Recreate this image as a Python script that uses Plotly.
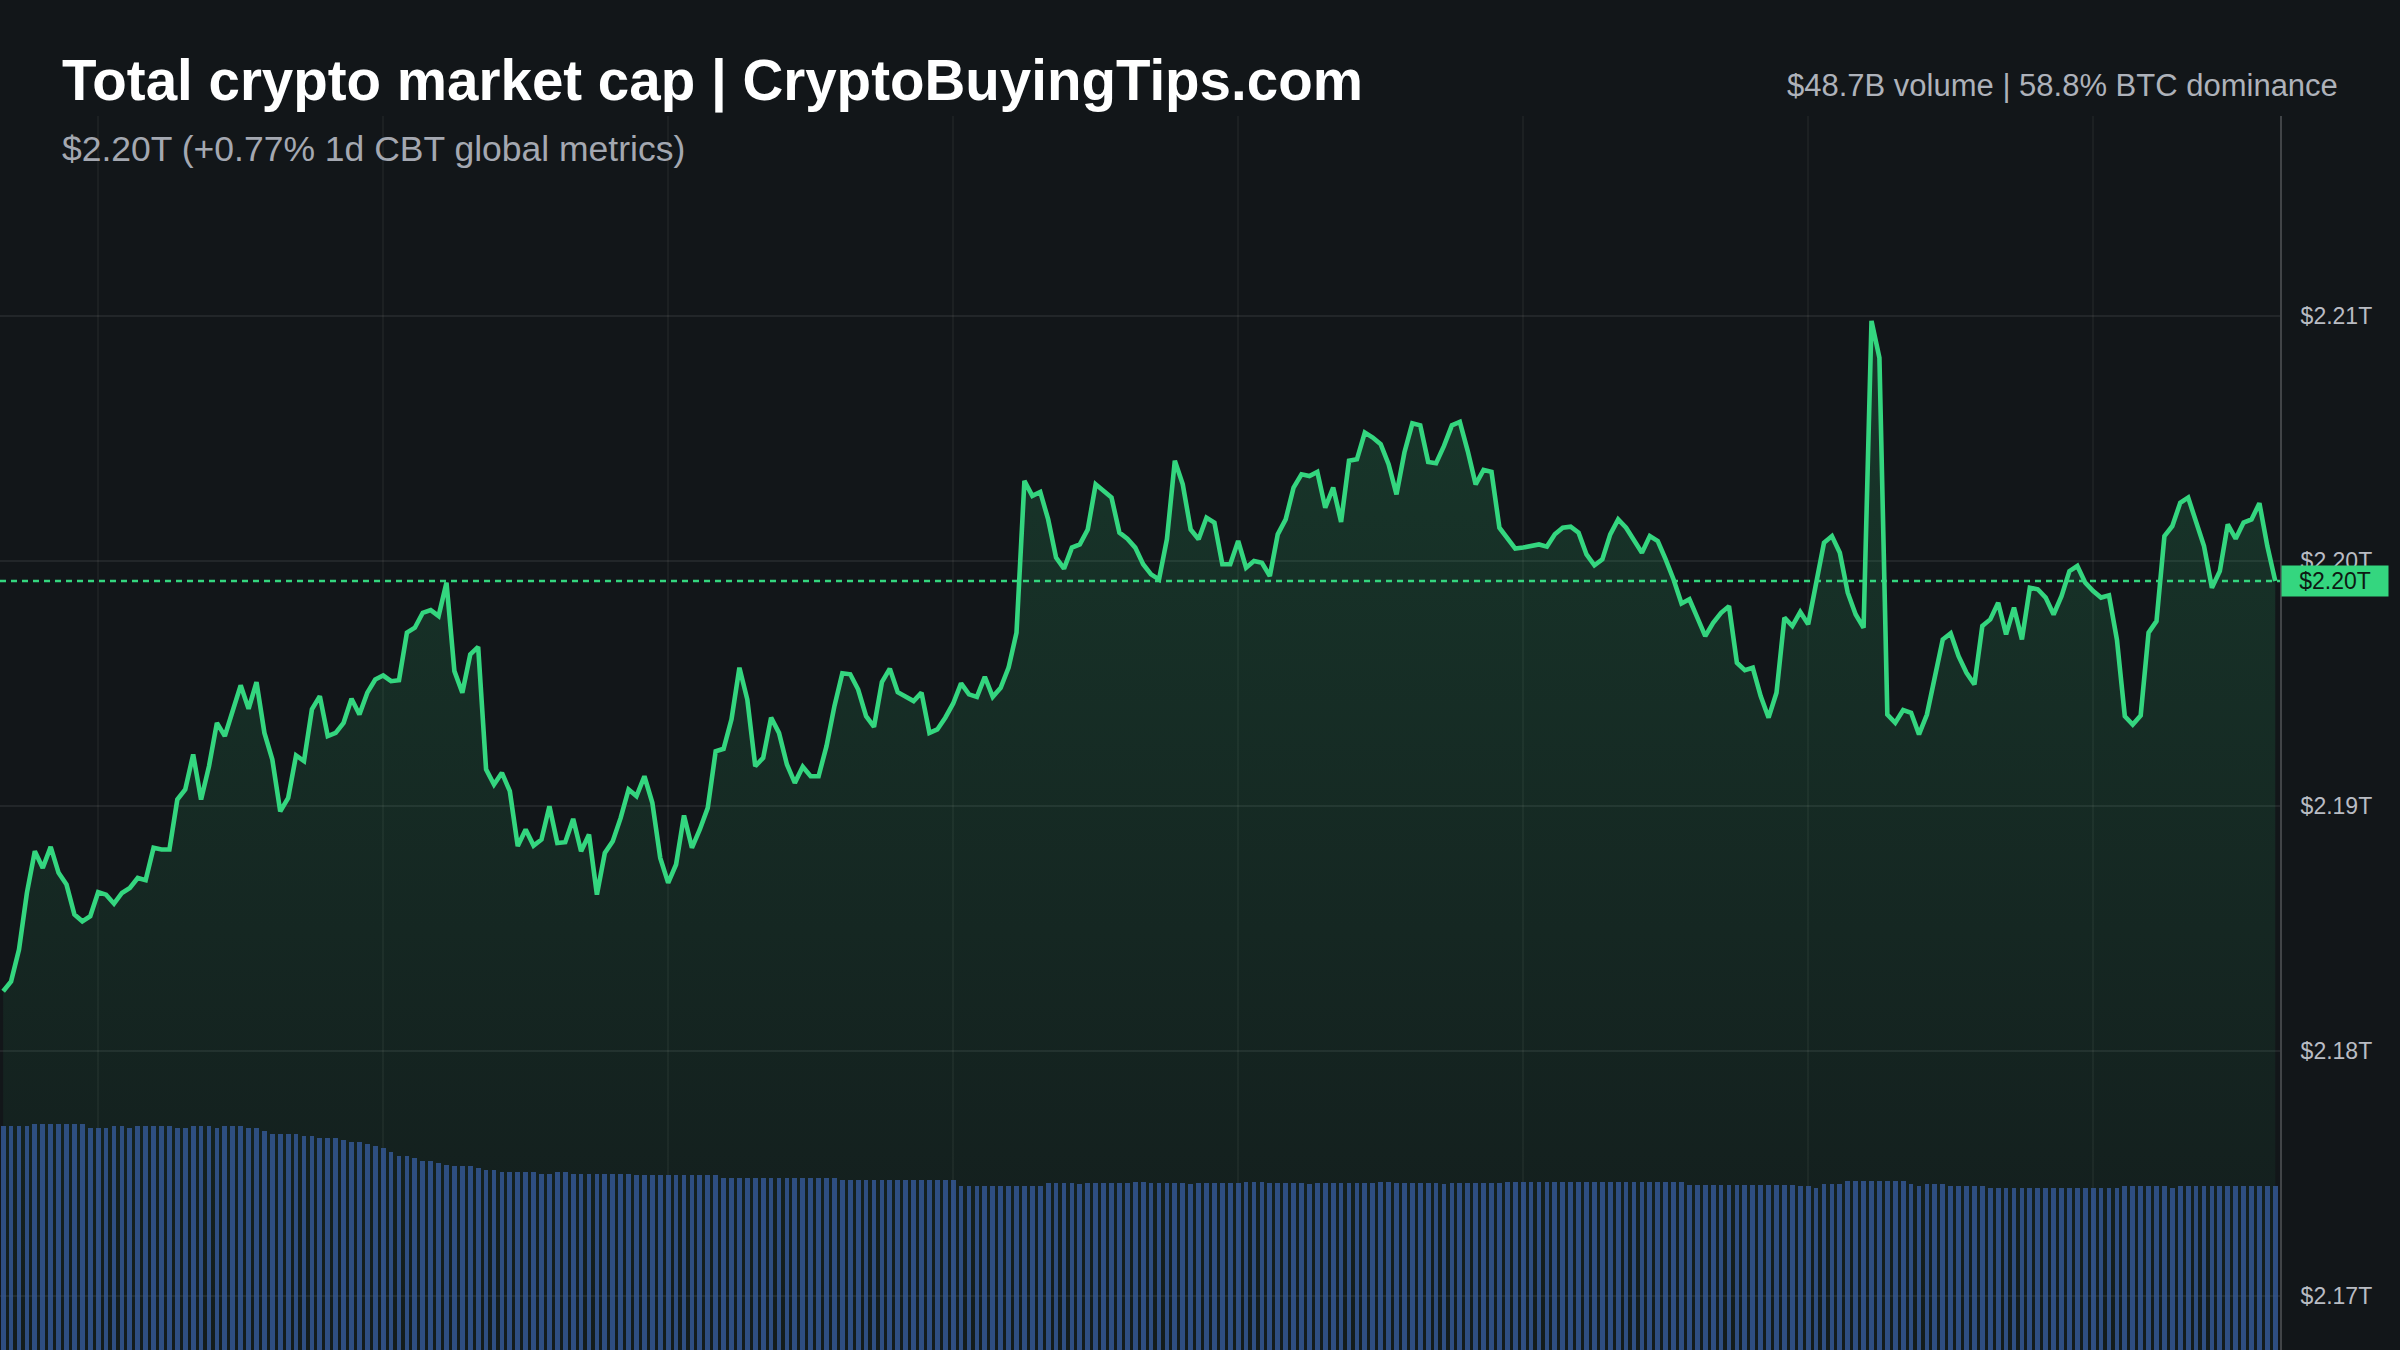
import plotly.graph_objects as go
import pandas as pd

# ---------------- data ----------------
start_time = "2024-03-14 23:00"

price_t = [
    2.18245, 2.18285, 2.18415, 2.18646, 2.18816, 2.18748, 2.18834, 2.18728, 2.18680, 2.18558,
    2.18530, 2.18551, 2.18649, 2.18639, 2.18602, 2.18646, 2.18666, 2.18707, 2.18698, 2.18830,
    2.18823, 2.18823, 2.19027, 2.19068, 2.19211, 2.19027, 2.19163, 2.19340, 2.19286, 2.19388,
    2.19493, 2.19397, 2.19506, 2.19299, 2.19190, 2.18979, 2.19034, 2.19207, 2.19184, 2.19395,
    2.19449, 2.19286, 2.19299, 2.19340, 2.19438, 2.19374, 2.19463, 2.19517, 2.19533, 2.19510,
    2.19514,
    2.19708, 2.19728, 2.19789, 2.19800, 2.19776, 2.19912, 2.19551, 2.19463, 2.19619, 2.19650,
    2.19150, 2.19088, 2.19136, 2.19061, 2.18837, 2.18905, 2.18839, 2.18864, 2.19000, 2.18850,
    2.18853, 2.18948, 2.18816, 2.18884, 2.18639, 2.18809, 2.18857, 2.18952, 2.19068, 2.19041,
    2.19122, 2.19014, 2.18789, 2.18687, 2.18762, 2.18962, 2.18830, 2.18905, 2.18993, 2.19224,
    2.19234, 2.19354, 2.19565, 2.19435, 2.19163, 2.19197, 2.19361, 2.19299,
    2.19170, 2.19095, 2.19161, 2.19122, 2.19122, 2.19245, 2.19408, 2.19542, 2.19538, 2.19476, 2.19367,
    2.19324, 2.19506, 2.19561, 2.19465, 2.19449, 2.19429, 2.19463, 2.19299, 2.19313, 2.19361,
    2.19419, 2.19501, 2.19456, 2.19446, 2.19528, 2.19446, 2.19483, 2.19565, 2.19708, 2.20327,
    2.20266, 2.20282, 2.20170, 2.20014, 2.19969, 2.20055, 2.20068, 2.20129, 2.20313, 2.20286,
    2.20259, 2.20116, 2.20091, 2.20055, 2.19987, 2.19946, 2.19925,
    2.20089, 2.20409, 2.20313, 2.20129, 2.20089, 2.20177, 2.20157,
    2.19987, 2.19987, 2.20082, 2.19973, 2.20000, 2.19993, 2.19939,
    2.20109, 2.20170, 2.20300, 2.20354, 2.20347, 2.20364, 2.20218, 2.20300, 2.20160, 2.20409,
    2.20415, 2.20524, 2.20504, 2.20477, 2.20395, 2.20272, 2.20443, 2.20562, 2.20554, 2.20404,
    2.20399, 2.20470, 2.20554, 2.20568, 2.20449, 2.20313, 2.20372, 2.20364, 2.20136, 2.20096,
    2.20051, 2.20055, 2.20061, 2.20068,
    2.20059, 2.20109, 2.20136, 2.20140, 2.20116, 2.20027, 2.19983, 2.20007, 2.20109, 2.20170,
    2.20136, 2.20082, 2.20034, 2.20102, 2.20082, 2.20007, 2.19925, 2.19827, 2.19844, 2.19769,
    2.19694, 2.19748, 2.19789, 2.19816, 2.19585, 2.19555, 2.19565, 2.19449, 2.19361, 2.19463,
    2.19769, 2.19735, 2.19792, 2.19742, 2.19912, 2.20075, 2.20102, 2.20034, 2.19871, 2.19782,
    2.19728, 2.20980, 2.20830, 2.19374, 2.19340, 2.19392, 2.19381, 2.19293,
    2.19374, 2.19531, 2.19680, 2.19705, 2.19612, 2.19544, 2.19497, 2.19735, 2.19762, 2.19830,
    2.19701, 2.19810, 2.19680, 2.19891, 2.19885, 2.19851, 2.19782, 2.19857, 2.19959, 2.19980,
    2.19912, 2.19878, 2.19851, 2.19860, 2.19680, 2.19367, 2.19333, 2.19370, 2.19708, 2.19755,
    2.20102, 2.20143, 2.20238, 2.20259, 2.20157, 2.20061, 2.19891, 2.19959, 2.20150, 2.20091,
    2.20157, 2.20170, 2.20236, 2.20061, 2.19919,
]

# rolling 24h volume, billions USD
volume_b = [
    66.5, 66.5, 66.5, 66.5, 67.1, 67.1, 67.1, 67.1, 67.1, 67.1,
    67.1, 65.8, 65.8, 65.8, 66.5, 66.5, 65.8, 66.5, 66.5, 66.5,
    66.5, 66.5, 65.8, 65.8, 66.5, 66.5, 66.5, 65.8, 66.5, 66.5,
    66.5, 65.8, 65.8, 65.1, 64.1, 64.1, 64.1, 64.1, 63.5, 63.5,
    62.9, 62.9, 62.9, 62.2, 61.8, 61.8, 61.1, 60.4, 59.9, 58.7,
    57.6, 57.4, 56.8, 56.2, 56.2, 55.6, 55.0, 54.6, 54.6, 54.6,
    54.0, 53.5, 53.5, 52.9, 52.9, 52.9, 52.9, 52.9, 52.3, 52.3,
    52.9, 52.9, 52.3, 52.3, 52.3, 52.3, 52.3, 52.3, 52.3, 52.3,
    51.8, 51.8, 51.8, 51.8, 51.8, 51.8, 51.8, 51.8, 51.8, 51.8,
    51.8, 51.0, 51.0, 51.0, 51.0, 51.0, 51.0, 51.0, 51.0, 51.0,
    51.0, 51.0, 51.0, 51.0, 51.0, 51.0, 50.5, 50.5, 50.5, 50.5,
    50.5, 50.5, 50.5, 50.5, 50.5, 50.5, 50.5, 50.5, 50.5, 50.5,
    50.5, 48.6, 48.6, 48.6, 48.6, 48.6, 48.6, 48.6, 48.6, 48.6,
    48.6, 48.6, 49.5, 49.5, 49.5, 49.5, 49.3, 49.5, 49.5, 49.5,
    49.5, 49.5, 49.5, 49.8, 49.8, 49.5, 49.5, 49.5, 49.5, 49.5,
    49.3, 49.5, 49.5, 49.5, 49.5, 49.5, 49.5, 49.8, 49.8, 49.8,
    49.5, 49.5, 49.5, 49.5, 49.5, 49.3, 49.5, 49.5, 49.5, 49.5,
    49.5, 49.5, 49.5, 49.5, 49.8, 49.8, 49.5, 49.5, 49.5, 49.5,
    49.5, 49.5, 49.3, 49.5, 49.5, 49.5, 49.5, 49.5, 49.5, 49.5,
    49.8, 49.8, 49.8, 49.8, 49.8, 49.8, 49.8, 49.8, 49.8, 49.8,
    49.8, 49.8, 49.8, 49.8, 49.8, 49.8, 49.8, 49.8, 49.8, 49.8,
    49.8, 49.8, 49.8, 48.8, 48.8, 48.8, 48.8, 48.8, 48.8, 48.8,
    48.8, 48.8, 48.8, 48.8, 48.8, 48.8, 48.8, 48.7, 48.7, 48.0,
    49.3, 49.3, 49.3, 50.0, 50.0, 50.0, 50.0, 50.0, 50.0, 50.0,
    50.0, 49.3, 48.5, 49.3, 49.3, 49.3, 48.7, 48.7, 48.7, 48.7,
    48.7, 48.0, 48.0, 48.0, 48.0, 48.0, 48.0, 48.0, 48.0, 48.0,
    48.0, 48.0, 48.0, 48.0, 48.0, 48.0, 48.0, 48.0, 48.7, 48.7,
    48.7, 48.7, 48.7, 48.7, 48.0, 48.7, 48.7, 48.7, 48.7, 48.7,
    48.7, 48.7, 48.7, 48.7, 48.7, 48.7, 48.7, 48.7,
]

ytick_vals = [2.17, 2.18, 2.19, 2.20, 2.21]
ytick_text = ["$2.17T", "$2.18T", "$2.19T", "$2.20T", "$2.21T"]

title_text = "Total crypto market cap | CryptoBuyingTips.com"
subtitle_text = "$2.20T (+0.77% 1d CBT global metrics)"
right_text = "$48.7B volume | 58.8% BTC dominance"
price_label = "$2.20T"

# ---------------- figure ----------------
times = pd.date_range(start_time, periods=len(price_t), freq="5min")
last_price = price_t[-1]

BG = "#121619"
GREEN = "#34d67f"
FONT = "Liberation Sans, Arial, sans-serif"

W, H = 2400, 1350
M_L, M_R, M_T, M_B = 0, 120, 116, 0
plot_w = W - M_L - M_R
plot_h = H - M_T - M_B


def px_to_paper_y(py):
    return (H - M_B - py) / plot_h


def px_to_paper_x(px):
    return (px - M_L) / plot_w


fig = go.Figure()

fig.add_trace(go.Scatter(
    x=times, y=price_t, mode="lines",
    line=dict(color=GREEN, width=4.6),
    fill="tozeroy",
    fillgradient=dict(
        type="vertical",
        colorscale=[[0, "rgba(52,214,127,0.03)"], [1, "rgba(52,214,127,0.16)"]],
        start=2.1678, stop=2.206,
    ),
    hoverinfo="skip",
))

fig.add_trace(go.Bar(
    x=times, y=volume_b, yaxis="y2",
    marker=dict(color="rgba(52,89,151,0.82)", line=dict(width=0)),
    width=5 * 60 * 1000 * 0.6,
    hoverinfo="skip",
))

fig.add_shape(
    type="line", xref="paper", x0=0, x1=1, yref="y", y0=last_price, y1=last_price,
    line=dict(color=GREEN, width=2.5, dash="6px,5px"), layer="above",
)

annotations = [
    dict(text="<b>" + title_text + "</b>", xref="paper", yref="paper",
         x=px_to_paper_x(60), y=px_to_paper_y(81), xanchor="left", yanchor="middle",
         showarrow=False, font=dict(family=FONT, size=56.5, color="#ffffff")),
    dict(text=subtitle_text, xref="paper", yref="paper",
         x=px_to_paper_x(60), y=px_to_paper_y(149), xanchor="left", yanchor="middle",
         showarrow=False, font=dict(family=FONT, size=35.5, color="#a4a8b1")),
    dict(text=right_text, xref="paper", yref="paper",
         x=px_to_paper_x(2340), y=px_to_paper_y(85), xanchor="right", yanchor="middle",
         showarrow=False, font=dict(family=FONT, size=31, color="#aeb2ba")),
    dict(text=price_label, xref="paper", yref="y", x=1, y=last_price,
         xanchor="left", yanchor="middle", xshift=1, showarrow=False,
         bgcolor=GREEN, borderpad=3, width=100, height=24,
         font=dict(family=FONT, size=23, color="#0d1a13")),
]

fig.update_layout(
    width=W, height=H,
    margin=dict(l=M_L, r=M_R, t=M_T, b=M_B, pad=0),
    paper_bgcolor=BG, plot_bgcolor=BG,
    showlegend=False,
    bargap=0,
    annotations=annotations,
    xaxis=dict(
        type="date",
        range=[times[0] - pd.Timedelta(minutes=2), times[-1] + pd.Timedelta(minutes=3)],
        showgrid=True, gridcolor="rgba(255,255,255,0.045)", gridwidth=2,
        dtick=3 * 3600 * 1000, tick0="2024-03-15 00:00",
        showticklabels=False, ticks="", zeroline=False, showline=False,
        fixedrange=True,
    ),
    yaxis=dict(
        side="right",
        range=[2.16781, 2.21816],
        tickmode="array", tickvals=ytick_vals, ticktext=ytick_text,
        showgrid=True, gridcolor="rgba(255,255,255,0.07)", gridwidth=2,
        showline=True, linecolor="rgba(255,255,255,0.2)", linewidth=2,
        ticks="", ticklabelstandoff=14,
        tickfont=dict(family=FONT, size=23, color="#b9bcc3"),
        zeroline=False,
    ),
    yaxis2=dict(
        overlaying="y", range=[0, 366], visible=False, fixedrange=True,
    ),
)

fig.write_html("out.html")
